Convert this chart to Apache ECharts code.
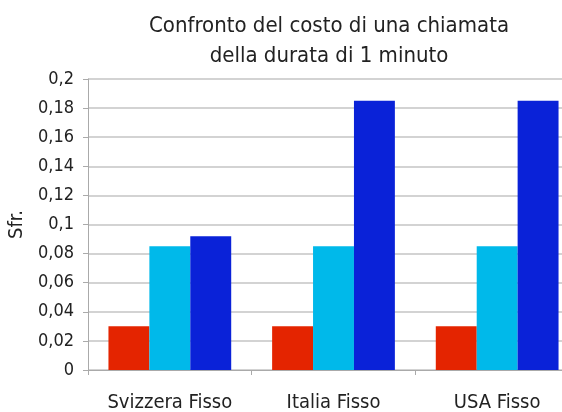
<!DOCTYPE html>
<html>
<head>
<meta charset="utf-8">
<script src="https://cdn.jsdelivr.net/npm/echarts@6/dist/echarts.min.js"></script>
<style>html,body{margin:0;padding:0;background:#fff}#c{width:562px;height:412px}</style>
</head>
<body>
<div id="c"></div>
<script>
var categories = ["Svizzera Fisso", "Italia Fisso", "USA Fisso"];
var serie1 = [0.03, 0.03, 0.03];
var serie2 = [0.085, 0.085, 0.085];
var serie3 = [0.092, 0.185, 0.185];
var yTicks = [0, 0.02, 0.04, 0.06, 0.08, 0.1, 0.12, 0.14, 0.16, 0.18, 0.2];

var FONT = '"DejaVu Sans Condensed", "Liberation Sans", Arial, sans-serif';
var chart = echarts.init(document.getElementById('c'), null, {renderer: 'canvas'});
chart.setOption({
  animation: false,
  backgroundColor: '#fff',
  title: {
    text: 'Confronto del costo di una chiamata\ndella durata di 1 minuto',
    left: 324, top: 6, textAlign: 'center',
    textStyle: {fontFamily: FONT, fontSize: 22, fontWeight: 'normal', color: '#222', lineHeight: 30}
  },
  grid: {left: 88, top: 79, width: 491, height: 291, containLabel: false, outerBoundsMode: 'none'},
  xAxis: {
    type: 'category', data: categories,
    axisLine: {lineStyle: {color: '#aaa', width: 1}},
    axisTick: {show: true, length: 5, lineStyle: {color: '#aaa'}},
    axisLabel: {fontFamily: FONT, fontSize: 20, color: '#222', margin: 23, interval: 0}
  },
  yAxis: {
    type: 'value', min: yTicks[0], max: yTicks[yTicks.length - 1], interval: 0.02,
    name: 'Sfr.', nameLocation: 'middle', nameGap: 60, nameRotate: 90,
    nameTextStyle: {fontFamily: FONT, fontSize: 20, color: '#222'},
    axisLine: {show: true, lineStyle: {color: '#aaa'}},
    axisTick: {show: true, length: 5, lineStyle: {color: '#aaa'}},
    splitLine: {lineStyle: {color: '#c4c4c4', width: 1.5}},
    axisLabel: {
      fontFamily: FONT, fontSize: 18, color: '#222', margin: 14,
      formatter: function (v) { return String(parseFloat(v.toFixed(2))).replace('.', ','); }
    }
  },
  series: [
    {name: 'Serie 1', type: 'bar', data: serie1, itemStyle: {color: '#E42400'}, barGap: '0%', barCategoryGap: '25%'},
    {name: 'Serie 2', type: 'bar', data: serie2, itemStyle: {color: '#00B9EA'}},
    {name: 'Serie 3', type: 'bar', data: serie3, itemStyle: {color: '#0A22D8'}}
  ]
});
</script>
</body>
</html>
